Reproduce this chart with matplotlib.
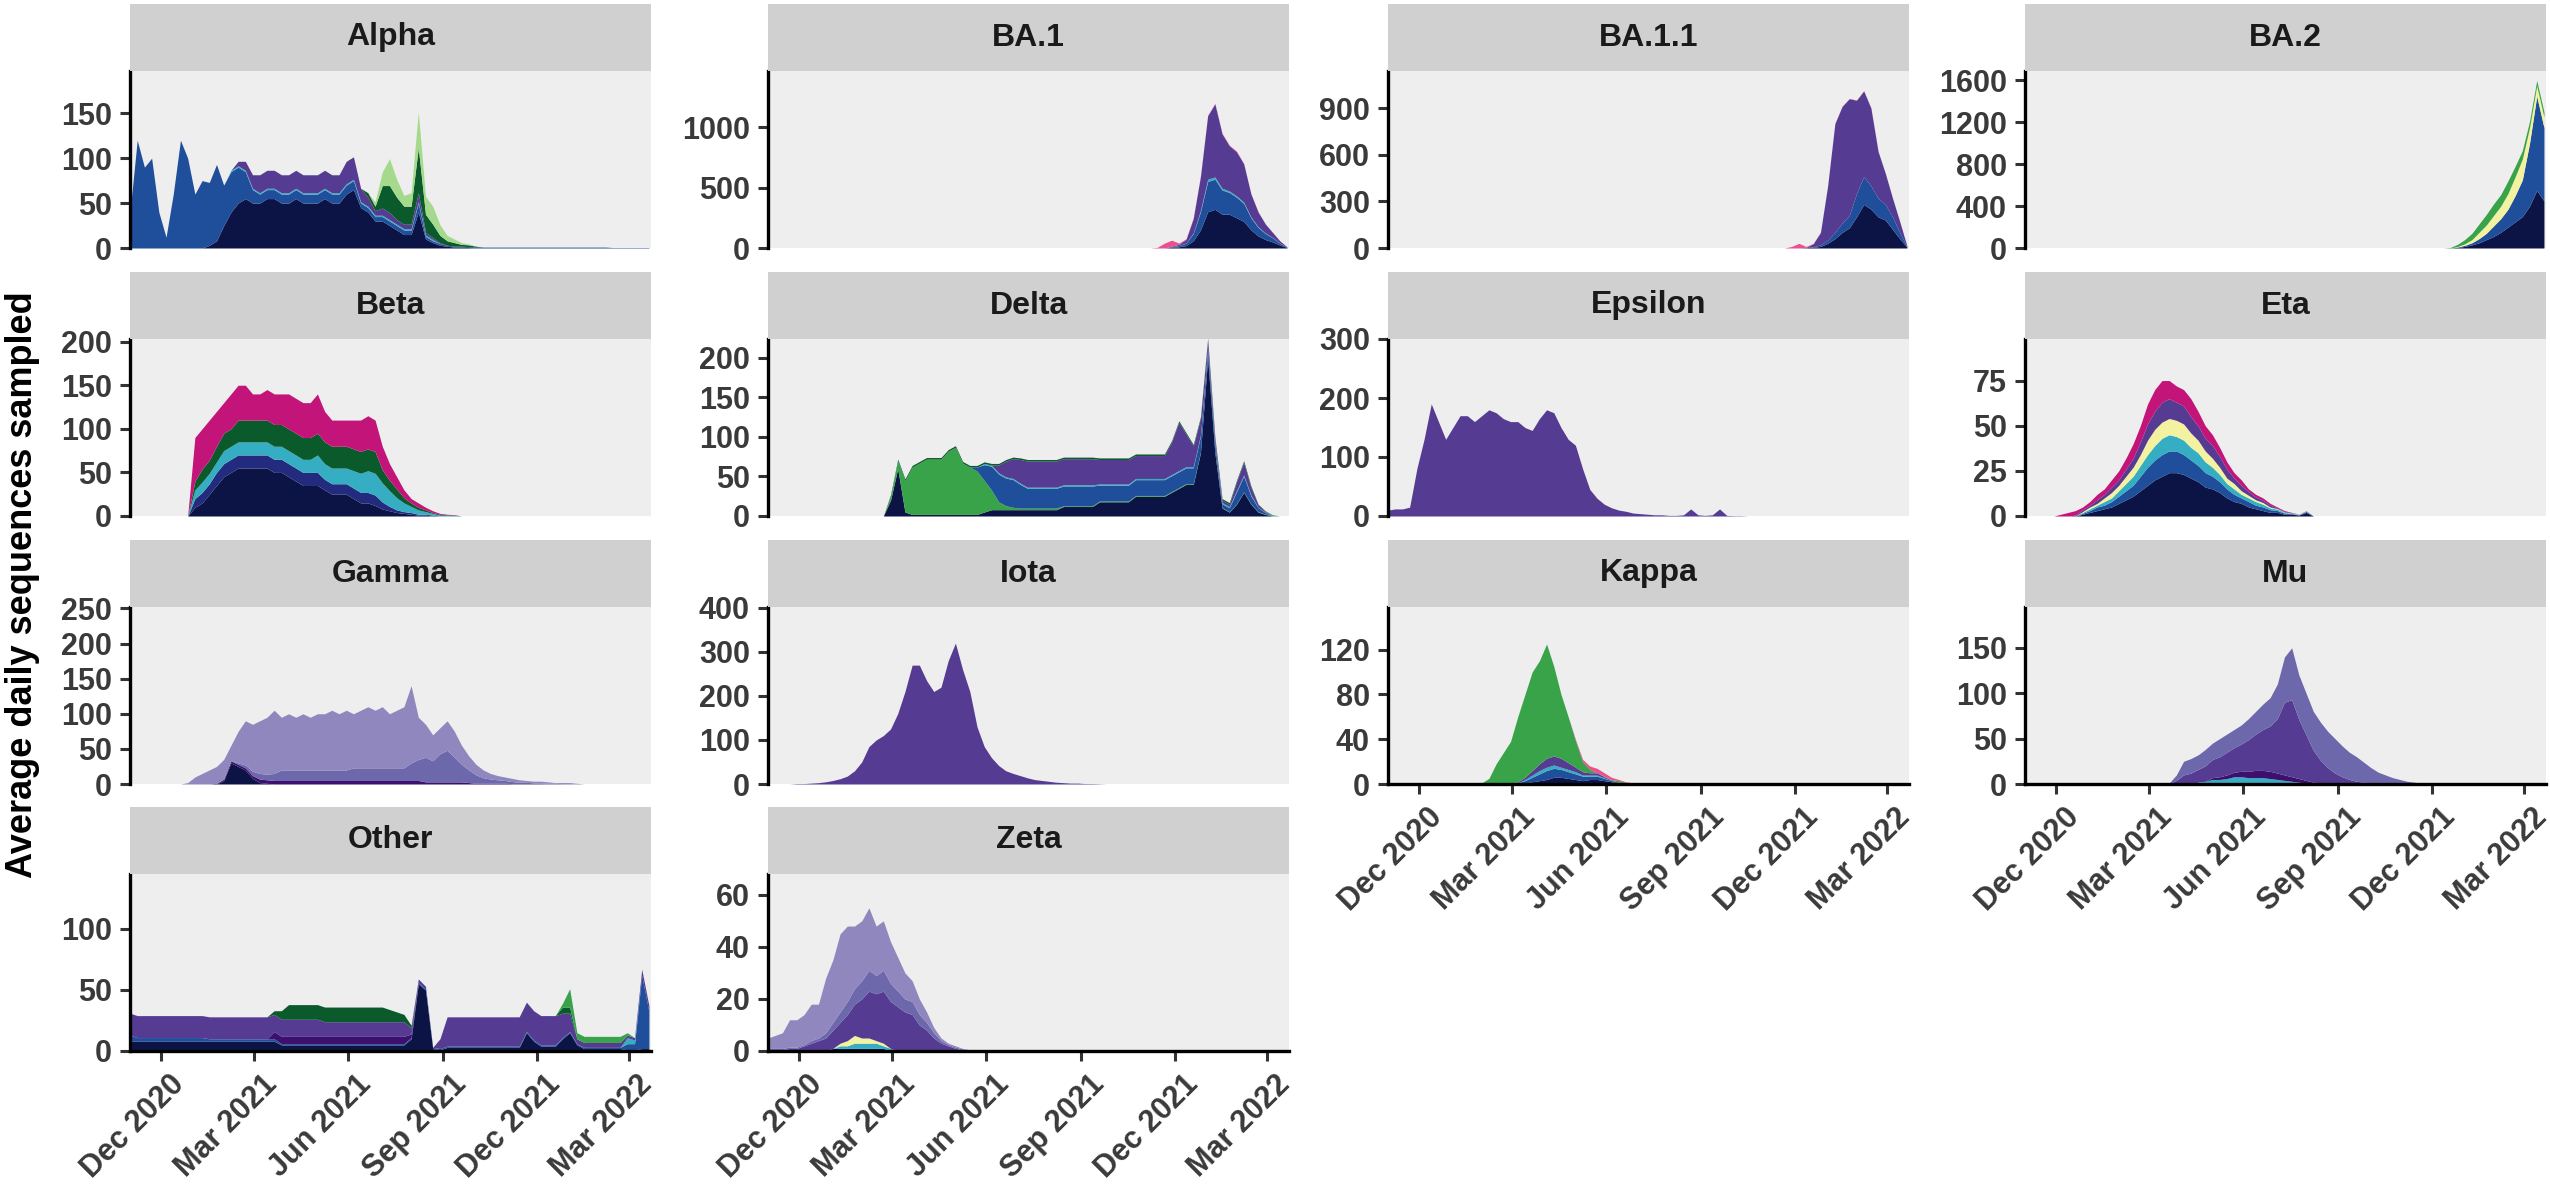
import numpy as np
import matplotlib
matplotlib.use('Agg')
import matplotlib.pyplot as plt
import matplotlib.dates as mdates
import matplotlib.transforms as mtransforms

plt.rcParams['font.family'] = ['Liberation Sans', 'DejaVu Sans']
plt.rcParams['font.weight'] = 'bold'

# weekly grid, Nov 1 2020 .. Mar 20 2022
dates = np.arange(np.datetime64('2020-11-01'), np.datetime64('2022-03-21'), np.timedelta64(7, 'D'))
N = len(dates)

def pad(start, vals):
    arr = np.zeros(N)
    arr[start:start + len(vals)] = vals
    return arr

# colours of the sampling groups
NAVY = '#0c1446'
INDIGO = '#232b7e'
BLUE = '#1f4e9b'
TEAL = '#35aec4'
YELLOW = '#f2f2a0'
LTGREEN = '#a5d98b'
GREEN = '#38a348'
DKGREEN = '#0b5a2b'
DKPURPLE = '#3d0f6f'
PURPLE = '#553b91'
LAVENDER = '#6d67ab'
LTPURPLE = '#8f87be'
MAGENTA = '#c21479'
PINK = '#ec4f8f'

# ---- Alpha ----
alpha_navy = pad(11, [3, 8, 25, 40, 50, 55, 50, 50, 55, 55, 50, 50, 55, 50, 50, 50, 55, 50, 50,
                      60, 65, 45, 40, 30, 30, 25, 20, 15, 15, 40, 10, 6, 3, 2, 1, 1, 0.5])
alpha_blue = pad(0, [40, 120, 90, 100, 40, 12, 60, 120, 100, 60, 75, 70, 85, 45, 45, 40, 30, 15,
                     10, 10, 10, 10, 10, 10, 10, 10, 10, 10, 10, 10, 10, 10,
                     5, 5, 5, 5, 5, 5, 5, 5, 10, 3, 2, 2] + [1] * 23 + [0.5] * 6)
alpha_teal = pad(14, [1.5] * 29)
alpha_purple = pad(15, [5, 10, 15, 20, 20, 20, 20, 20, 20, 20, 20, 20, 20, 20, 20, 25, 25, 15, 10, 5,
                        8, 8, 5, 5, 5, 10, 3, 2, 1])
alpha_dkgreen = pad(33, [5, 5, 25, 30, 25, 20, 20, 50, 20, 15, 8, 5, 4, 2, 2, 1])
alpha_ltgreen = pad(34, [5, 15, 30, 20, 12, 15, 40, 20, 20, 12, 6, 4, 2, 1])

# ---- BA.1 ----
ba1_navy = pad(54, [0, 0, 5, 10, 20, 60, 150, 300, 320, 280, 280, 250, 220, 150, 100, 70, 50, 25, 5])
ba1_blue = pad(54, [0, 0, 5, 10, 20, 60, 150, 250, 250, 200, 180, 170, 150, 100, 70, 50, 35, 15, 3])
ba1_teal = pad(54, [0, 0, 0, 1, 2, 5, 12, 20, 18, 15, 12, 12, 10, 8, 6, 4, 3, 2, 0.5])
ba1_purple = pad(54, [0, 0, 5, 10, 30, 120, 280, 525, 605, 450, 375, 365, 317, 190, 122, 75, 41, 18, 1.5])
ba1_pink = pad(54, [5, 40, 50, 10, 5, 5, 5, 5, 5, 5, 5, 5, 3, 2, 2, 1, 1, 0, 0])

# ---- BA.1.1 ----
ba11_navy = pad(56, [0, 0, 2, 5, 10, 30, 60, 100, 130, 200, 280, 250, 200, 180, 120, 60, 5])
ba11_blue = pad(56, [0, 0, 1, 3, 10, 20, 40, 60, 80, 150, 180, 150, 120, 100, 80, 40, 3])
ba11_purple = pad(56, [0, 0, 2, 20, 80, 350, 700, 750, 750, 600, 550, 500, 300, 200, 120, 70, 5])
ba11_pink = pad(56, [10, 30, 5, 2, 2, 2, 2, 2, 2, 2, 2, 2, 2, 1, 1, 0, 0])

# ---- BA.2 ----
ba2_navy = pad(59, [0, 5, 15, 30, 50, 80, 110, 150, 200, 250, 300, 400, 550, 450])
ba2_blue = pad(59, [0, 5, 10, 20, 40, 60, 100, 130, 170, 250, 350, 600, 900, 700])
ba2_yellow = pad(59, [0, 5, 15, 30, 60, 80, 100, 120, 150, 180, 200, 150, 100, 100])
ba2_green = pad(59, [5, 20, 40, 60, 80, 100, 110, 110, 120, 100, 80, 60, 50, 50])

# ---- Beta ----
beta_navy = pad(9, [10, 15, 25, 35, 45, 50, 55, 55, 55, 55, 55, 50, 50, 45, 40, 35, 35, 35, 30, 25,
                    25, 25, 20, 15, 15, 12, 8, 6, 4, 3, 2, 1, 1, 0, 0, 0, 0])
beta_indigo = pad(9, [10, 12, 12, 15, 15, 15, 15, 15, 15, 15, 15, 15, 15, 15, 15, 15, 15, 15, 12, 12,
                      12, 12, 12, 12, 12, 12, 8, 5, 3, 2, 2, 1, 1, 1, 0, 0, 0])
beta_teal = pad(9, [10, 12, 12, 12, 15, 15, 15, 15, 15, 15, 15, 15, 15, 15, 15, 15, 15, 20, 18, 18,
                    18, 18, 20, 22, 25, 25, 22, 18, 14, 10, 7, 5, 3, 2, 1, 1, 0.5])
beta_dkgreen = pad(9, [10, 15, 15, 18, 20, 20, 25, 25, 25, 25, 25, 25, 25, 25, 25, 25, 25, 25, 25, 25,
                       25, 25, 25, 25, 25, 25, 15, 12, 10, 6, 4, 3, 2, 1, 1, 0.5, 0.5])
beta_magenta = pad(9, [50, 46, 46, 40, 35, 40, 40, 40, 30, 30, 35, 35, 35, 40, 40, 40, 40, 45, 35, 30,
                       30, 30, 33, 36, 38, 36, 27, 19, 14, 9, 5, 5, 3, 2, 1, 0.5, 0.5])

# ---- Delta ----
delta_navy = pad(17, [20, 60, 5] + [2] * 10 + [5] + [8] * 10 + [12] * 5 + [18] * 5 + [25] * 5 +
                 [30, 35, 40, 40, 80, 200, 80, 10, 5, 15, 30, 15, 5, 2, 0])
delta_green = pad(17, [5, 10, 40, 60, 65, 70, 70, 70, 80, 85, 65, 60, 55, 40, 25, 10, 5, 3] +
                  [2] * 6 + [1] * 20 + [0.5] * 10)
delta_blue = pad(29, [5, 20, 30, 35, 35, 35, 30] + [25] * 10 + [20] * 15 +
                 [10, 10, 5, 5, 15, 20, 10, 5, 2, 0])
delta_teal = pad(30, [1.5] * 38 + [0.5] * 3)
delta_purple = pad(32, [10, 20, 25, 30] + [33] * 10 + [31] * 5 + [29] * 5 +
                   [41, 61, 41, 26, 21, 11, 6, 3, 3, 11, 16, 9, 3.5, 1, 0])
delta_dkgreen = pad(17, [2] * 51 + [0.5] * 3)

# ---- Epsilon ----
epsilon_purple = pad(0, [10, 12, 12, 15, 80, 130, 190, 160, 130, 150, 170, 170, 160, 170, 180, 175, 165,
                         160, 160, 150, 145, 165, 180, 175, 150, 130, 120, 80, 45, 30, 20, 14, 10, 8,
                         5, 4, 3, 2, 2, 1, 1, 2, 12, 2, 1, 2, 12, 1, 0.5, 0.5, 0])

# ---- Eta ----
eta_navy = pad(5, [0, 0, 0, 1, 2, 3, 4, 5, 7, 9, 11, 14, 17, 20, 22, 24, 24, 23, 21, 19,
                   16, 15, 13, 10, 8, 7, 5, 4, 3, 2, 2, 1, 1, 0.5, 2, 0])
eta_blue = pad(5, [0, 0, 0, 0.5, 1, 2, 2, 3, 4, 5, 6, 8, 10, 11, 12, 12, 12, 11, 10, 9,
                   8, 7, 6, 5, 4, 3, 3, 2, 2, 1.5, 1, 0.5, 0.3, 0.2, 0.5, 0])
eta_teal = pad(5, [0, 0, 0, 0.5, 1, 1, 2, 2, 3, 4, 5, 6, 7, 8, 9, 9, 8, 8, 7, 7,
                   6, 5, 4, 3, 3, 2, 2, 2, 1.5, 1, 0.8, 0.5, 0.3, 0.1, 0.2, 0])
eta_yellow = pad(5, [0, 0, 0, 0.5, 1, 1, 2, 3, 3, 4, 5, 6, 8, 9, 9, 9, 9, 9, 8, 7,
                     6, 5, 4, 3, 3, 2, 1.5, 1, 1, 0.5, 0.3, 0.2, 0.1, 0.1, 0.1, 0])
eta_purple = pad(5, [0, 0, 0.5, 1, 1, 2, 2, 3, 3, 4, 5, 7, 9, 10, 11, 11, 10, 10, 9, 8,
                     7, 7, 6, 5, 3, 3, 2, 1.5, 1.2, 1, 0.5, 0.3, 0.2, 0.1, 0.1, 0])
eta_magenta = pad(5, [1, 2, 2.5, 1.5, 2, 3, 3, 4, 5, 6, 8, 9, 11, 12, 12, 10, 9, 9, 10, 8,
                      7, 6, 5, 4, 3, 3, 1.5, 1.5, 1.3, 1, 0.4, 0.5, 0.1, 0, 0.1, 0])

# ---- Gamma ----
gamma_navy = pad(13, [5, 30, 25, 20, 8, 2, 1])
gamma_dkpurple = pad(12, [1, 2, 3, 3, 3, 4] + [5] * 20 + [5, 5, 5, 3, 3, 3, 3, 3, 3, 2] +
                     [1, 1, 1, 1, 1, 0.5, 0.5, 0.5, 0.5, 0.5])
gamma_lavender = pad(15, [2, 4, 6, 8, 8, 10, 15, 15, 15, 15, 15, 15, 15, 15, 15, 15, 18, 18, 18, 18, 18,
                          18, 18, 18, 25, 30, 35, 30, 40, 45, 35, 25, 18, 12, 8, 6, 5, 4, 3, 2, 2, 1,
                          1, 1, 1, 0.5, 0.5])
gamma_ltpurple = pad(8, [2, 10, 15, 20, 24, 28, 22, 45, 63, 67, 75, 81, 90, 75, 80, 75, 80, 75, 80, 80,
                         85, 80, 85, 77, 82, 87, 82, 87, 77, 82, 87, 110, 60, 47, 37, 37, 42, 37, 27, 20,
                         15, 11, 8, 6, 5, 4.5, 3.5, 2.5, 2.5, 2.5, 2, 1, 1.5, 1.5, 1])

# ---- Iota ----
iota_purple = pad(4, [1, 1, 2, 3, 5, 8, 12, 18, 30, 50, 85, 100, 110, 125, 160, 210, 270, 270, 235, 210,
                      220, 280, 320, 260, 210, 130, 85, 60, 42, 30, 24, 19, 14, 10, 8, 6, 4, 3, 2, 2,
                      1, 1, 0.5])

# ---- Kappa ----
kappa_navy = pad(13, [0, 0, 0, 0, 0, 0, 1, 2, 3, 4, 6, 6, 5, 4, 3, 4, 4, 3, 2, 1, 0.5, 0.3, 0])
kappa_blue = pad(13, [0, 0, 0, 0, 0.5, 1, 2, 4, 6, 8, 8, 7, 6, 5, 4, 3, 3, 2, 1, 0.5, 0.3, 0.2, 0])
kappa_teal = pad(13, [0, 0, 0, 0, 0, 0, 1, 2, 3, 3, 3, 2, 2, 2, 1, 1, 1, 0.5, 0, 0, 0, 0, 0])
kappa_purple = pad(13, [0, 0, 0, 0, 0, 1, 2, 4, 6, 8, 8, 8, 6, 4, 3, 2, 2, 1, 0.5, 0, 0, 0, 0])
kappa_green = pad(13, [1, 5, 18, 28, 37.5, 58, 74, 88, 92, 102, 80, 57, 41, 24, 9, 3, 0, 0.5, 0.5, 1.5,
                       0.7, 0.5, 0.5])
kappa_pink = pad(13, [0, 0, 0, 0, 0, 0, 0, 0, 0, 0, 0, 0, 0, 1, 2, 3, 4, 3, 2, 1, 0.5, 0, 0])

# ---- Mu ----
mu_teal = pad(24, [2, 3, 5, 5, 6, 8, 8, 7, 7, 7, 6, 5, 4, 3, 2, 1])
mu_dkpurple = pad(26, [2, 3, 4, 5, 6, 7, 8, 8, 8, 7, 6, 5, 4, 3, 2, 1])
mu_purple = pad(20, [0.5, 4, 10, 12, 14, 17, 20, 22, 25, 27, 30, 35, 40, 45, 50, 60, 80, 85, 65, 50,
                     35, 25, 18, 12, 8, 5, 3, 2, 1, 0.5])
mu_lavender = pad(20, [0.5, 6, 15, 16, 16, 18, 18, 20, 20, 20, 21, 23, 25, 28, 31, 38, 50, 57, 49, 46,
                       43, 42, 40, 38, 34, 30, 27, 22, 17, 12.5, 10, 7, 5, 3, 2, 1, 0.5])

# ---- Other ----
other_navy = pad(0, [8] * 21 + [5] * 18 + [10, 55, 50, 2, 1] + [3] * 11 + [15, 8, 4, 4, 4] +
                 [10, 15, 5] + [2] * 6 + [1, 1, 2, 2])
other_blue = pad(0, [5] + [3] * 10 + [2] * 10 + [1] * 48 + [5, 5, 60, 30])
other_teal = pad(69, [5, 3])
other_dkpurple = pad(20, [6] * 19 + [3])
other_purple = pad(0, [18] * 20 + [14] * 7 + [12] * 12 + [5, 3, 2, 0, 8] + [24] * 16 +
                   [20, 15] + [4] * 7 + [2, 2, 5, 5])
other_dkgreen = pad(20, [3, 7] + [12] * 14 + [10, 8, 6, 2] + [0] * 20 + [5, 5])
other_green = pad(60, [3, 15] + [5] * 7 + [2])

# ---- Zeta ----
zeta_navy = pad(9, [1, 1, 1, 1, 1, 1, 1, 1])
zeta_teal = pad(10, [1, 1, 2, 2, 2, 2, 1, 1])
zeta_yellow = pad(10, [1, 2, 3, 2, 2, 1, 1])
zeta_purple = pad(0, [0.5, 0.5, 0.5, 1, 1, 2, 3, 4, 5, 7, 8, 10, 12, 15, 18, 18, 20, 18, 17, 15,
                      14, 10, 8, 5, 3, 2, 1, 0.5, 0.2])
zeta_lavender = pad(0, [0.5, 0.5, 0.5, 0.5, 0.5, 0.5, 1, 1, 2, 3, 4, 5, 6, 7, 8, 7, 8, 7, 6, 5,
                        5, 4, 3, 2, 1, 0.5, 0.5, 0.3, 0.2])
zeta_ltpurple = pad(0, [4, 5, 6, 10.5, 10.5, 11.5, 14, 13, 21, 24, 30, 29, 24, 23, 24, 19, 19, 16, 13, 10,
                        8, 6, 4, 2, 1, 0.5, 0.5, 0.2, 0.1])

# panel name, column, row, layers bottom->top, y max, y ticks
panels = [
    ('Alpha', 0, 0, [(alpha_navy, NAVY), (alpha_blue, BLUE), (alpha_teal, TEAL), (alpha_purple, PURPLE),
                     (alpha_dkgreen, DKGREEN), (alpha_ltgreen, LTGREEN)], 197, [0, 50, 100, 150]),
    ('BA.1', 1, 0, [(ba1_navy, NAVY), (ba1_blue, BLUE), (ba1_teal, TEAL), (ba1_purple, PURPLE),
                    (ba1_pink, PINK)], 1465, [0, 500, 1000]),
    ('BA.1.1', 2, 0, [(ba11_navy, NAVY), (ba11_blue, BLUE), (ba11_purple, PURPLE), (ba11_pink, PINK)],
     1138, [0, 300, 600, 900]),
    ('BA.2', 3, 0, [(ba2_navy, NAVY), (ba2_blue, BLUE), (ba2_yellow, YELLOW), (ba2_green, GREEN)],
     1690, [0, 400, 800, 1200, 1600]),
    ('Beta', 0, 1, [(beta_navy, NAVY), (beta_indigo, INDIGO), (beta_teal, TEAL), (beta_dkgreen, DKGREEN),
                    (beta_magenta, MAGENTA)], 203, [0, 50, 100, 150, 200]),
    ('Delta', 1, 1, [(delta_navy, NAVY), (delta_green, GREEN), (delta_blue, BLUE), (delta_teal, TEAL),
                     (delta_purple, PURPLE), (delta_dkgreen, DKGREEN)], 224, [0, 50, 100, 150, 200]),
    ('Epsilon', 2, 1, [(epsilon_purple, PURPLE)], 300, [0, 100, 200, 300]),
    ('Eta', 3, 1, [(eta_navy, NAVY), (eta_blue, BLUE), (eta_teal, TEAL), (eta_yellow, YELLOW),
                   (eta_purple, PURPLE), (eta_magenta, MAGENTA)], 98, [0, 25, 50, 75]),
    ('Gamma', 0, 2, [(gamma_navy, NAVY), (gamma_dkpurple, DKPURPLE), (gamma_lavender, LAVENDER),
                     (gamma_ltpurple, LTPURPLE)], 252, [0, 50, 100, 150, 200, 250]),
    ('Iota', 1, 2, [(iota_purple, PURPLE)], 402, [0, 100, 200, 300, 400]),
    ('Kappa', 2, 2, [(kappa_navy, NAVY), (kappa_blue, BLUE), (kappa_teal, TEAL), (kappa_purple, PURPLE),
                     (kappa_green, GREEN), (kappa_pink, PINK)], 158, [0, 40, 80, 120]),
    ('Mu', 3, 2, [(mu_teal, TEAL), (mu_dkpurple, DKPURPLE), (mu_purple, PURPLE), (mu_lavender, LAVENDER)],
     195, [0, 50, 100, 150]),
    ('Other', 0, 3, [(other_navy, NAVY), (other_blue, BLUE), (other_teal, TEAL), (other_dkpurple, DKPURPLE),
                     (other_purple, PURPLE), (other_dkgreen, DKGREEN), (other_green, GREEN)],
     145, [0, 50, 100]),
    ('Zeta', 1, 3, [(zeta_navy, NAVY), (zeta_teal, TEAL), (zeta_yellow, YELLOW), (zeta_purple, PURPLE),
                    (zeta_lavender, LAVENDER), (zeta_ltpurple, LTPURPLE)], 68, [0, 20, 40, 60]),
]
bottom_panels = ['Kappa', 'Mu', 'Other', 'Zeta']

x_ticks = ['2020-12-01', '2021-03-01', '2021-06-01', '2021-09-01', '2021-12-01', '2022-03-01']
x_labels = ['Dec 2020', 'Mar 2021', 'Jun 2021', 'Sep 2021', 'Dec 2021', 'Mar 2022']

# layout in pixels
W, H = 2550, 1200
col_left = [130, 768, 1388, 2025]
panel_w = 521
row_top = [71, 339, 607, 874]
panel_h = 177
strip_h = 67

fig = plt.figure(figsize=(W / 100, H / 100), dpi=100)
xd = mdates.date2num(dates)
shift = mtransforms.ScaledTranslation(8 / 100, 0, fig.dpi_scale_trans)

for name, c, r, layers, ytop, yticks in panels:
    left = col_left[c] / W
    bottom = 1 - (row_top[r] + panel_h) / H
    ax = fig.add_axes([left, bottom, panel_w / W, panel_h / H])
    ax.set_facecolor('#eeeeee')
    ax.stackplot(xd, *[l[0] for l in layers], colors=[l[1] for l in layers],
                 linewidth=0, edgecolor='face')
    ax.set_xlim(mdates.date2num(np.datetime64('2020-11-01')), mdates.date2num(np.datetime64('2022-03-22')))
    ax.set_ylim(0, ytop)
    ax.set_yticks(yticks)
    ax.set_yticklabels([str(t) for t in yticks])
    for s in ['top', 'right']:
        ax.spines[s].set_visible(False)
    ax.spines['left'].set_linewidth(2.4)
    ax.spines['left'].set_color('black')
    ax.tick_params(axis='y', length=7, width=2.2, color='#333333', pad=6,
                   labelsize=22, labelcolor='#3a3a3a')
    if name in bottom_panels:
        ax.spines['bottom'].set_linewidth(2.4)
        ax.spines['bottom'].set_color('black')
        ax.set_xticks([mdates.date2num(np.datetime64(d)) for d in x_ticks])
        ax.set_xticklabels(x_labels, rotation=45, ha='right', va='top', rotation_mode='anchor')
        ax.tick_params(axis='x', length=7, width=2.2, color='#333333', pad=6,
                       labelsize=22, labelcolor='#3a3a3a')
        for lab in ax.get_xticklabels():
            lab.set_transform(lab.get_transform() + shift)
    else:
        ax.spines['bottom'].set_visible(False)
        ax.set_xticks([])
    for lab in ax.get_xticklabels() + ax.get_yticklabels():
        lab.set_fontweight('bold')

    sax = fig.add_axes([left, 1 - row_top[r] / H, panel_w / W, strip_h / H])
    sax.set_facecolor('#d0d0d0')
    for s in sax.spines.values():
        s.set_visible(False)
    sax.set_xticks([])
    sax.set_yticks([])
    sax.text(0.5, 0.5, name, ha='center', va='center', fontsize=23, fontweight='bold',
             color='#1a1a1a', transform=sax.transAxes)

fig.text(0.009, 0.513, 'Average daily sequences sampled', rotation=90, ha='center', va='center',
         fontsize=26, fontweight='bold', color='black')

fig.savefig('out.png', dpi=100)
